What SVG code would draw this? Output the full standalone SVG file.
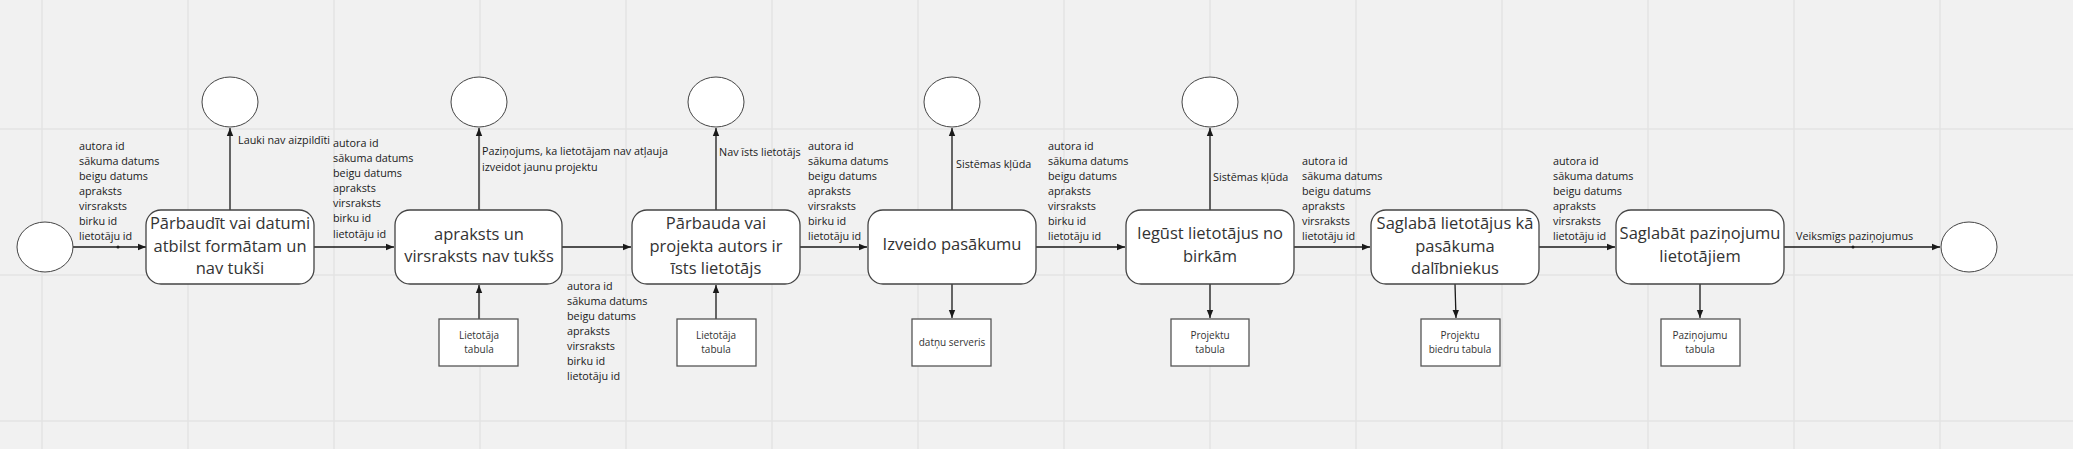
<svg xmlns="http://www.w3.org/2000/svg" width="2073" height="449" viewBox="0 0 2073 449">
<defs>
<marker id="ah" viewBox="0 0 10 10" refX="10" refY="5" markerWidth="8" markerHeight="8" markerUnits="userSpaceOnUse" orient="auto">
<path d="M0,1 L10,5 L0,9 z" fill="#1a1a1a"/>
</marker>
<style>
.grid{stroke:#e3e3e3;stroke-width:1.5}
.proc{fill:#fff;stroke:#444;stroke-width:1.3}
.circ{fill:#fff;stroke:#444;stroke-width:1}
.store{fill:#fff;stroke:#555;stroke-width:1.3}
.pt{font-family:"Open Sans","Noto Sans",sans-serif;font-size:16.5px;fill:#333;text-anchor:middle}
.st{font-family:"Open Sans","Noto Sans",sans-serif;font-size:10px;fill:#333;text-anchor:middle}
.lb{font-family:"Open Sans","Noto Sans",sans-serif;font-size:10.8px;fill:#1a1a1a}
.cn{stroke:#1a1a1a;stroke-width:1.3;fill:none;marker-end:url(#ah)}
</style>
</defs>
<rect width="2073" height="449" fill="#f1f1f1"/>
<g id="grid">
<line class="grid" x1="0" y1="129" x2="2073" y2="129"/>
<line class="grid" x1="0" y1="275" x2="2073" y2="275"/>
<line class="grid" x1="0" y1="421" x2="2073" y2="421"/>
<line class="grid" x1="42" y1="0" x2="42" y2="449"/>
<line class="grid" x1="188" y1="0" x2="188" y2="449"/>
<line class="grid" x1="334" y1="0" x2="334" y2="449"/>
<line class="grid" x1="480" y1="0" x2="480" y2="449"/>
<line class="grid" x1="626" y1="0" x2="626" y2="449"/>
<line class="grid" x1="772" y1="0" x2="772" y2="449"/>
<line class="grid" x1="918" y1="0" x2="918" y2="449"/>
<line class="grid" x1="1064" y1="0" x2="1064" y2="449"/>
<line class="grid" x1="1210" y1="0" x2="1210" y2="449"/>
<line class="grid" x1="1356" y1="0" x2="1356" y2="449"/>
<line class="grid" x1="1502" y1="0" x2="1502" y2="449"/>
<line class="grid" x1="1648" y1="0" x2="1648" y2="449"/>
<line class="grid" x1="1794" y1="0" x2="1794" y2="449"/>
<line class="grid" x1="1940" y1="0" x2="1940" y2="449"/>
</g>
<g id="connectors">
<line class="cn" x1="73" y1="247" x2="146" y2="247"/>
<line class="cn" x1="314" y1="247" x2="394" y2="247"/>
<line class="cn" x1="562" y1="247" x2="631" y2="247"/>
<line class="cn" x1="800" y1="247" x2="867" y2="247"/>
<line class="cn" x1="1036" y1="247" x2="1125" y2="247"/>
<line class="cn" x1="1294" y1="247" x2="1370" y2="247"/>
<line class="cn" x1="1539" y1="247" x2="1615" y2="247"/>
<line class="cn" x1="1784" y1="247" x2="1940" y2="247"/>
<line class="cn" x1="230" y1="210" x2="230" y2="128"/>
<line class="cn" x1="479" y1="210" x2="479" y2="128"/>
<line class="cn" x1="716" y1="210" x2="716" y2="128"/>
<line class="cn" x1="952" y1="210" x2="952" y2="128"/>
<line class="cn" x1="1210" y1="210" x2="1210" y2="128"/>
<line class="cn" x1="479" y1="319" x2="479" y2="285"/>
<line class="cn" x1="716" y1="319" x2="716" y2="285"/>
<line class="cn" x1="952" y1="284" x2="952" y2="318"/>
<line class="cn" x1="1210" y1="284" x2="1210" y2="318"/>
<line class="cn" x1="1455" y1="284" x2="1456" y2="318"/>
<line class="cn" x1="1700" y1="284" x2="1700" y2="318"/>
<circle cx="118" cy="247" r="1.5" fill="#1a1a1a"/>
<circle cx="1853" cy="247" r="1.5" fill="#1a1a1a"/>
<text class="lb" x="79" y="150">autora id</text>
<text class="lb" x="79" y="165">sākuma datums</text>
<text class="lb" x="79" y="180">beigu datums</text>
<text class="lb" x="79" y="195">apraksts</text>
<text class="lb" x="79" y="210">virsraksts</text>
<text class="lb" x="79" y="225">birku id</text>
<text class="lb" x="79" y="240">lietotāju id</text>
<text class="lb" x="238" y="144">Lauki nav aizpildīti</text>
<text class="lb" x="333" y="147">autora id</text>
<text class="lb" x="333" y="162">sākuma datums</text>
<text class="lb" x="333" y="177">beigu datums</text>
<text class="lb" x="333" y="192">apraksts</text>
<text class="lb" x="333" y="207">virsraksts</text>
<text class="lb" x="333" y="222">birku id</text>
<text class="lb" x="333" y="238">lietotāju id</text>
<text class="lb" x="482" y="155">Paziņojums, ka lietotājam nav atļauja</text>
<text class="lb" x="482" y="171">izveidot jaunu projektu</text>
<text class="lb" x="567" y="290">autora id</text>
<text class="lb" x="567" y="305">sākuma datums</text>
<text class="lb" x="567" y="320">beigu datums</text>
<text class="lb" x="567" y="335">apraksts</text>
<text class="lb" x="567" y="350">virsraksts</text>
<text class="lb" x="567" y="365">birku id</text>
<text class="lb" x="567" y="380">lietotāju id</text>
<text class="lb" x="719" y="156">Nav īsts lietotājs</text>
<text class="lb" x="808" y="150">autora id</text>
<text class="lb" x="808" y="165">sākuma datums</text>
<text class="lb" x="808" y="180">beigu datums</text>
<text class="lb" x="808" y="195">apraksts</text>
<text class="lb" x="808" y="210">virsraksts</text>
<text class="lb" x="808" y="225">birku id</text>
<text class="lb" x="808" y="240">lietotāju id</text>
<text class="lb" x="956" y="168">Sistēmas kļūda</text>
<text class="lb" x="1048" y="150">autora id</text>
<text class="lb" x="1048" y="165">sākuma datums</text>
<text class="lb" x="1048" y="180">beigu datums</text>
<text class="lb" x="1048" y="195">apraksts</text>
<text class="lb" x="1048" y="210">virsraksts</text>
<text class="lb" x="1048" y="225">birku id</text>
<text class="lb" x="1048" y="240">lietotāju id</text>
<text class="lb" x="1213" y="181">Sistēmas kļūda</text>
<text class="lb" x="1302" y="165">autora id</text>
<text class="lb" x="1302" y="180">sākuma datums</text>
<text class="lb" x="1302" y="195">beigu datums</text>
<text class="lb" x="1302" y="210">apraksts</text>
<text class="lb" x="1302" y="225">virsraksts</text>
<text class="lb" x="1302" y="240">lietotāju id</text>
<text class="lb" x="1553" y="165">autora id</text>
<text class="lb" x="1553" y="180">sākuma datums</text>
<text class="lb" x="1553" y="195">beigu datums</text>
<text class="lb" x="1553" y="210">apraksts</text>
<text class="lb" x="1553" y="225">virsraksts</text>
<text class="lb" x="1553" y="240">lietotāju id</text>
<text class="lb" x="1796" y="240">Veiksmīgs paziņojumus</text>
</g>
<g id="start"><ellipse class="circ" cx="45" cy="247" rx="28" ry="25"/></g>
<g id="end"><ellipse class="circ" cx="1969" cy="247" rx="28" ry="25"/></g>
<g id="out1"><ellipse class="circ" cx="230" cy="102" rx="28" ry="25"/></g>
<g id="out2"><ellipse class="circ" cx="479" cy="102" rx="28" ry="25"/></g>
<g id="out3"><ellipse class="circ" cx="716" cy="102" rx="28" ry="25"/></g>
<g id="out4"><ellipse class="circ" cx="952" cy="102" rx="28" ry="25"/></g>
<g id="out5"><ellipse class="circ" cx="1210" cy="102" rx="28" ry="25"/></g>
<g id="p1"><rect class="proc" x="146" y="210" width="168" height="74" rx="15"/>
<text class="pt" x="230" y="229">Pārbaudīt vai datumi</text>
<text class="pt" x="230" y="252">atbilst formātam un</text>
<text class="pt" x="230" y="274">nav tukši</text></g>
<g id="p2"><rect class="proc" x="395" y="210" width="167" height="74" rx="15"/>
<text class="pt" x="479" y="240">apraksts un</text>
<text class="pt" x="479" y="262">virsraksts nav tukšs</text></g>
<g id="p3"><rect class="proc" x="632" y="210" width="168" height="74" rx="15"/>
<text class="pt" x="716" y="229">Pārbauda vai</text>
<text class="pt" x="716" y="252">projekta autors ir</text>
<text class="pt" x="716" y="274">īsts lietotājs</text></g>
<g id="p4"><rect class="proc" x="868" y="210" width="168" height="74" rx="15"/>
<text class="pt" x="952" y="250">Izveido pasākumu</text></g>
<g id="p5"><rect class="proc" x="1126" y="210" width="168" height="74" rx="15"/>
<text class="pt" x="1210" y="239">Iegūst lietotājus no</text>
<text class="pt" x="1210" y="262">birkām</text></g>
<g id="p6"><rect class="proc" x="1371" y="210" width="168" height="74" rx="15"/>
<text class="pt" x="1455" y="229">Saglabā lietotājus kā</text>
<text class="pt" x="1455" y="252">pasākuma</text>
<text class="pt" x="1455" y="274">dalībniekus</text></g>
<g id="p7"><rect class="proc" x="1616" y="210" width="168" height="74" rx="15"/>
<text class="pt" x="1700" y="239">Saglabāt paziņojumu</text>
<text class="pt" x="1700" y="262">lietotājiem</text></g>
<g id="s2"><rect class="store" x="439" y="319" width="79" height="47"/>
<text class="st" x="479" y="339">Lietotāja</text>
<text class="st" x="479" y="353">tabula</text></g>
<g id="s3"><rect class="store" x="677" y="319" width="79" height="47"/>
<text class="st" x="716" y="339">Lietotāja</text>
<text class="st" x="716" y="353">tabula</text></g>
<g id="s4"><rect class="store" x="912" y="319" width="79" height="47"/>
<text class="st" x="952" y="346">datņu serveris</text></g>
<g id="s5"><rect class="store" x="1171" y="319" width="78" height="47"/>
<text class="st" x="1210" y="339">Projektu</text>
<text class="st" x="1210" y="353">tabula</text></g>
<g id="s6"><rect class="store" x="1421" y="319" width="79" height="47"/>
<text class="st" x="1460" y="339">Projektu</text>
<text class="st" x="1460" y="353">biedru tabula</text></g>
<g id="s7"><rect class="store" x="1661" y="319" width="79" height="47"/>
<text class="st" x="1700" y="339">Paziņojumu</text>
<text class="st" x="1700" y="353">tabula</text></g>
</svg>
